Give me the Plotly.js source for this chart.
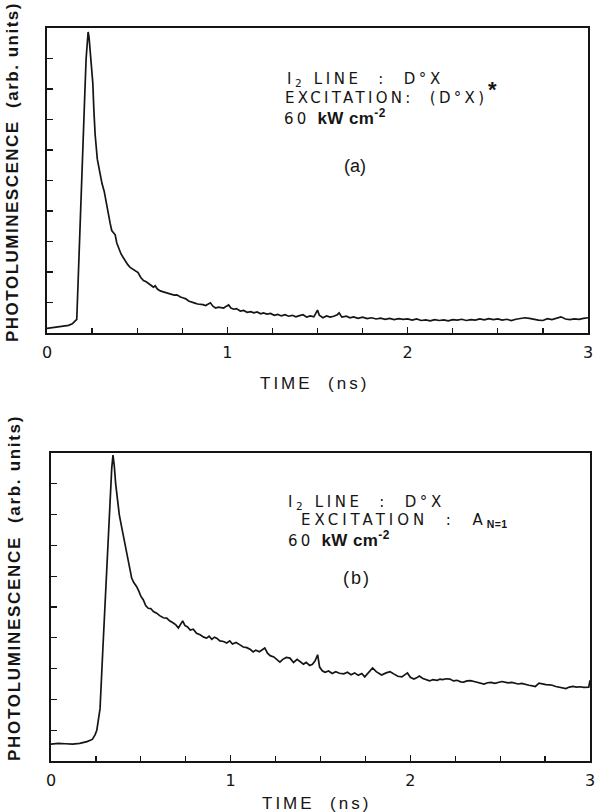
<!DOCTYPE html>
<html>
<head>
<meta charset="utf-8">
<script src="https://cdn.plot.ly/plotly-3.0.1.min.js"></script>
<style>
html,body{margin:0;padding:0;background:#fff;}
#chart{width:597px;height:812px;}
</style>
</head>
<body>
<div id="chart"></div>
<script>
// ---- Panel (a) : excitation (D0X)* ----
const timeA = [0.00,0.03,0.06,0.09,0.12,0.14,0.155,0.165,0.172,0.178,0.183,0.19,0.196,0.202,0.21,0.217,0.223,0.228,0.233,0.239,0.246,0.254,0.26,0.267,0.279,0.294,0.305,0.317,0.33,0.341,0.35,0.359,0.368,0.378,0.387,0.396,0.41,0.42,0.433,0.447,0.461,0.475,0.49,0.505,0.52,0.535,0.55,0.565,0.58,0.59,0.6,0.612,0.628,0.645,0.66,0.675,0.69,0.705,0.72,0.74,0.757,0.77,0.785,0.804,0.82,0.835,0.85,0.865,0.88,0.895,0.906,0.92,0.935,0.95,0.965,0.98,0.995,1.007,1.02,1.035,1.05,1.072,1.09,1.11,1.13,1.146,1.165,1.185,1.2,1.22,1.24,1.26,1.28,1.3,1.32,1.34,1.36,1.38,1.4,1.42,1.44,1.46,1.48,1.49,1.5,1.51,1.53,1.55,1.57,1.59,1.61,1.62,1.635,1.66,1.68,1.7,1.725,1.75,1.775,1.8,1.825,1.85,1.875,1.9,1.925,1.95,1.975,2.0,2.025,2.05,2.075,2.1,2.125,2.15,2.175,2.2,2.225,2.25,2.275,2.3,2.325,2.35,2.375,2.4,2.425,2.45,2.475,2.5,2.525,2.55,2.575,2.6,2.625,2.65,2.675,2.7,2.725,2.75,2.775,2.8,2.825,2.85,2.875,2.9,2.925,2.95,2.975,3.0];
const plA = [0.15,0.18,0.2,0.22,0.25,0.3,0.38,0.45,1.6,2.5,3.3,4.8,5.8,6.6,7.9,9.0,9.6,9.87,9.7,9.3,8.8,8.2,7.3,6.5,5.7,5.2,4.9,4.65,4.2,3.9,3.6,3.36,3.3,3.22,2.95,2.8,2.6,2.5,2.37,2.25,2.15,2.1,2.06,1.98,1.82,1.72,1.68,1.6,1.55,1.5,1.55,1.44,1.38,1.35,1.32,1.3,1.28,1.24,1.25,1.18,1.15,1.12,1.05,1.0,0.98,0.95,0.95,0.93,0.9,0.96,0.99,0.88,0.82,0.85,0.84,0.82,0.88,0.92,0.82,0.78,0.8,0.72,0.74,0.68,0.7,0.66,0.69,0.63,0.66,0.62,0.64,0.58,0.61,0.56,0.6,0.55,0.58,0.53,0.57,0.6,0.52,0.56,0.53,0.62,0.75,0.58,0.5,0.56,0.52,0.55,0.6,0.66,0.52,0.55,0.5,0.53,0.48,0.52,0.47,0.5,0.46,0.49,0.45,0.48,0.44,0.47,0.45,0.46,0.42,0.46,0.41,0.43,0.4,0.44,0.41,0.43,0.4,0.44,0.42,0.45,0.41,0.44,0.42,0.46,0.43,0.47,0.44,0.46,0.42,0.45,0.41,0.45,0.47,0.5,0.48,0.44,0.42,0.41,0.47,0.44,0.48,0.53,0.46,0.44,0.46,0.45,0.48,0.5];

// ---- Panel (b) : excitation A(N=1) ----
const timeB = [0.0,0.04,0.08,0.12,0.16,0.2,0.23,0.245,0.255,0.265,0.273,0.29,0.31,0.328,0.338,0.345,0.352,0.36,0.37,0.38,0.393,0.405,0.421,0.435,0.449,0.46,0.477,0.49,0.5,0.514,0.527,0.541,0.555,0.57,0.588,0.605,0.625,0.644,0.66,0.681,0.695,0.709,0.72,0.733,0.745,0.76,0.775,0.792,0.81,0.83,0.85,0.866,0.88,0.895,0.91,0.922,0.94,0.96,0.978,0.995,1.01,1.03,1.052,1.07,1.09,1.11,1.125,1.14,1.16,1.175,1.19,1.205,1.22,1.24,1.255,1.274,1.29,1.31,1.33,1.35,1.37,1.386,1.405,1.42,1.44,1.455,1.47,1.484,1.495,1.51,1.525,1.545,1.565,1.585,1.605,1.63,1.65,1.67,1.69,1.71,1.73,1.746,1.765,1.79,1.81,1.84,1.865,1.887,1.91,1.93,1.953,1.97,1.984,2.0,2.02,2.035,2.05,2.07,2.09,2.107,2.125,2.15,2.165,2.18,2.2,2.22,2.24,2.26,2.28,2.297,2.315,2.335,2.355,2.375,2.395,2.41,2.43,2.45,2.47,2.49,2.51,2.525,2.545,2.565,2.585,2.6,2.62,2.64,2.66,2.68,2.696,2.716,2.735,2.755,2.775,2.79,2.81,2.83,2.85,2.866,2.885,2.905,2.925,2.945,2.965,2.98,2.993,3.0];
const plB = [0.55,0.57,0.56,0.55,0.57,0.63,0.7,0.85,1.0,1.33,1.7,3.8,6.3,8.5,9.5,9.93,9.6,9.0,8.4,8.0,7.6,7.25,6.85,6.4,5.94,5.8,5.66,5.5,5.35,5.23,5.05,4.96,4.95,4.85,4.8,4.72,4.65,4.64,4.55,4.48,4.42,4.32,4.45,4.55,4.4,4.35,4.25,4.28,4.15,4.1,4.02,3.99,4.05,3.95,4.02,3.99,3.9,3.88,3.83,3.9,3.8,3.85,3.77,3.7,3.68,3.62,3.54,3.6,3.55,3.62,3.67,3.5,3.42,3.38,3.3,3.21,3.3,3.36,3.34,3.2,3.3,3.22,3.14,3.2,3.1,3.14,3.25,3.45,3.05,2.93,2.88,2.92,2.84,2.9,2.85,2.83,2.88,2.8,2.86,2.78,2.84,2.73,2.85,3.02,2.9,2.79,2.86,2.9,2.82,2.75,2.73,2.8,2.86,2.72,2.66,2.7,2.76,2.68,2.64,2.6,2.64,2.62,2.66,2.64,2.67,2.66,2.6,2.62,2.57,2.56,2.6,2.61,2.58,2.55,2.52,2.5,2.54,2.55,2.52,2.55,2.58,2.56,2.54,2.55,2.52,2.5,2.52,2.48,2.46,2.44,2.42,2.53,2.5,2.48,2.47,2.46,2.42,2.4,2.36,2.35,2.4,2.42,2.4,2.41,2.39,2.39,2.4,2.62];

const xTickVals = [0,1,2,3];
const xTickText = ['0','1','2','3'];
const xTitle = 'TIME\u00A0 (ns)';
const yTitle = 'PHOTOLUMINESCENCE\u00A0 (arb. units)';
const S = '\u00A0';

const W = 597, H = 812;
const px = v => v / W;
const py = v => 1 - v / H;
const ink = '#151515';

function xa(dom, anchor){
  return {domain:dom, anchor:anchor, range:[0,3], showline:true, mirror:true, linecolor:ink, linewidth:1.6,
    showgrid:false, zeroline:false, ticks:'inside', ticklen:6, tickwidth:1.3, tickcolor:ink,
    tickvals:xTickVals, ticktext:xTickText, ticklabelstandoff:4,
    tickfont:{family:'DejaVu Sans', size:16, color:ink},
    minor:{dtick:0.25, tick0:0, ticks:'inside', ticklen:5, tickwidth:1.3, tickcolor:ink, showgrid:false}};
}
function ya(dom, anchor){
  return {domain:dom, anchor:anchor, range:[0,10], showline:true, mirror:true, linecolor:ink, linewidth:1.6,
    showgrid:false, zeroline:false, ticks:'inside', ticklen:6, tickwidth:1.3, tickcolor:ink, dtick:1,
    showticklabels:false};
}

const traces = [
  {x:timeA, y:plA, xaxis:'x', yaxis:'y', mode:'lines', line:{color:ink, width:1.7}, hoverinfo:'skip'},
  {x:timeB, y:plB, xaxis:'x2', yaxis:'y2', mode:'lines', line:{color:ink, width:1.7}, hoverinfo:'skip'}
];

const sp = ls => 'letter-spacing:' + ls + 'px';
const bold = 'font-family:Liberation Sans;font-weight:bold;letter-spacing:0.4px;font-size:17px';
function ann(x, y, text, opts){
  return Object.assign({xref:'paper', yref:'paper', x:px(x), y:py(y), text:text, showarrow:false,
    xanchor:'left', yanchor:'middle', font:{family:'DejaVu Sans', size:15, color:ink}}, opts||{});
}

const annotations = [
  // panel a
  ann(285, 80, '<span style="'+sp(3.6)+'">I<sub>2</sub>'+S+'LINE'+S+S+':'+S+S+'D°X</span>'),
  ann(283, 98, '<span style="'+sp(3.3)+'">EXCITATION:'+S+S+'(D°X)</span>'),
  ann(492, 89, '*', {xanchor:'center', font:{family:'Liberation Sans', size:22, weight:'bold', color:ink}}),
  ann(282, 117, '<span style="'+sp(3.2)+'">60'+S+'</span><span style="'+bold+'">kW cm<sup>-2</sup></span>'),
  ann(355, 166, '(a)', {xanchor:'center', font:{family:'Liberation Sans', size:18, color:ink}}),
  // panel b
  ann(286, 502, '<span style="'+sp(3.6)+'">I<sub>2</sub>'+S+'LINE'+S+S+':'+S+S+'D°X</span>'),
  ann(299, 520, '<span style="'+sp(4.0)+'">EXCITATION'+S+S+':'+S+S+'A</span><span style="'+bold+';font-size:15px"><sub>N=1</sub></span>'),
  ann(286, 539, '<span style="'+sp(3.2)+'">60'+S+'</span><span style="'+bold+'">kW cm<sup>-2</sup></span>'),
  ann(357, 578, '<span style="letter-spacing:2px">(b)</span>', {xanchor:'center', font:{family:'Liberation Sans', size:18, color:ink}}),
  // axis titles
  ann(314, 383, '<span style="letter-spacing:3px">'+xTitle+'</span>', {xanchor:'center', font:{family:'Liberation Sans', size:17, color:ink}}),
  ann(316, 803, '<span style="letter-spacing:3px">'+xTitle+'</span>', {xanchor:'center', font:{family:'Liberation Sans', size:17, color:ink}}),
  ann(13, 172, '<span style="letter-spacing:1.5px">'+yTitle+'</span>', {xanchor:'center', textangle:-90, font:{family:'Liberation Sans', size:17, weight:'bold', color:ink}}),
  ann(14, 588, '<span style="letter-spacing:1.7px">'+yTitle+'</span>', {xanchor:'center', textangle:-90, font:{family:'Liberation Sans', size:17, weight:'bold', color:ink}})
];

const layout = {
  width:W, height:H, margin:{l:0, r:0, t:0, b:0}, paper_bgcolor:'#fff', plot_bgcolor:'#fff',
  showlegend:false,
  xaxis: xa([px(47), px(588)], 'y'),
  yaxis: ya([py(333), py(28)], 'x'),
  xaxis2: xa([px(51), px(590)], 'y2'),
  yaxis2: ya([py(761), py(453)], 'x2'),
  annotations: annotations
};

Plotly.newPlot('chart', traces, layout, {displayModeBar:false, staticPlot:true});
</script>
</body>
</html>
